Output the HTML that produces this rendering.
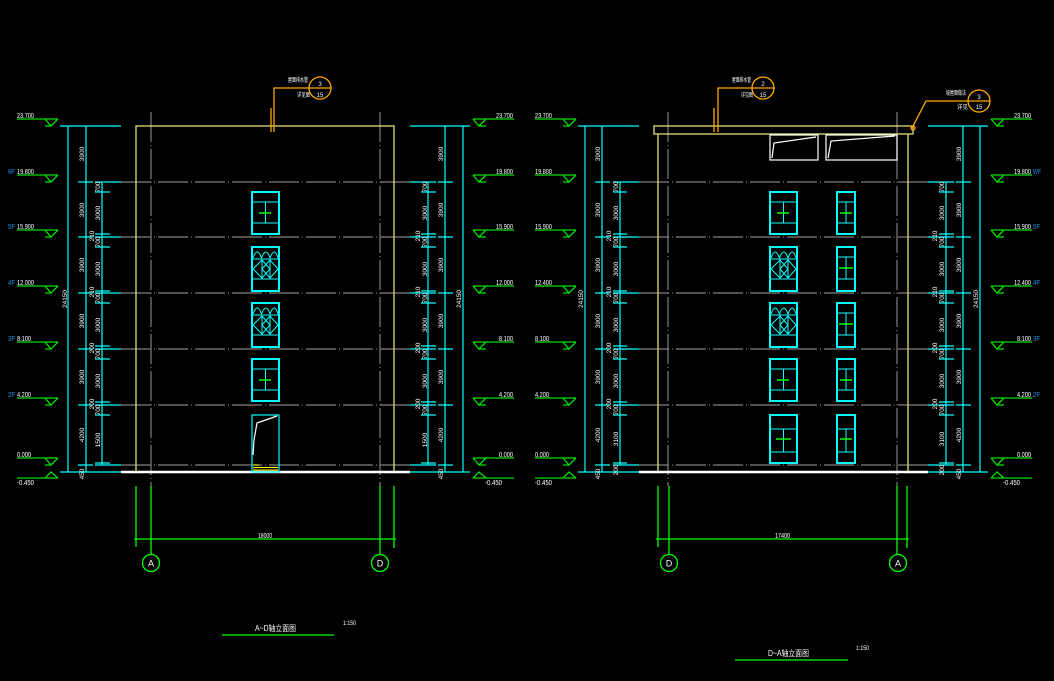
<!DOCTYPE html>
<html><head><meta charset="utf-8">
<style>
html,body{margin:0;padding:0;background:#000;width:1054px;height:681px;overflow:hidden}
svg{display:block}
text{font-family:"Liberation Sans","Noto Sans CJK SC",sans-serif;fill:#fff}
.v{font-size:6.5px;text-anchor:middle}
.h{font-size:7px}
.e{text-anchor:end}
.b{fill:#2090f0;font-size:7px}
.c{font-size:6px}
.m{text-anchor:middle}
</style></head><body>
<svg width="1054" height="681" viewBox="0 0 1054 681">
<defs>
<g id="mkR" fill="none" stroke="#00e000" stroke-width="1.3"><path d="M0 0H41M28 0L34 7L41 0M28 7H34"/></g>
<g id="mkL" fill="none" stroke="#00e000" stroke-width="1.3"><path d="M0 0H41M0 0L6 7L13 0M6 7H13"/></g>
<g id="mkRu" fill="none" stroke="#00e000" stroke-width="1.3"><path d="M0 0H41M28 0L34 -6L41 0"/></g>
<g id="mkLu" fill="none" stroke="#00e000" stroke-width="1.3"><path d="M0 0H41M0 0L6 -6L13 0"/></g>
<g id="wA" fill="none"><rect x="0" y="0" width="27" height="42" stroke="#0ff" stroke-width="2"/><path d="M0 10H27M0 31H27M13.5 10V31" stroke="#0ff"/><path d="M7 21H19" stroke="#0f0" stroke-width="1.5"/></g>
<g id="wB" fill="none" stroke="#0ff"><rect x="0" y="0" width="27" height="44" stroke-width="2"/><path d="M0 12H27M0 32H27M10 12V32M18 12V32"/><path d="M1 11Q5 -1 9.5 11Q14 -1 18 11Q22.5 -1 26 11"/><path d="M1 22L10 13L18 22L10 31ZM10 22L18 13L26 22L18 31Z"/></g>
<g id="wAb" fill="none"><rect x="0" y="0" width="27" height="48" stroke="#0ff" stroke-width="2"/><path d="M0 14H27M0 37H27M13.5 14V37" stroke="#0ff"/><path d="M6 24H21" stroke="#0f0" stroke-width="1.5"/></g>
<g id="wS" fill="none"><rect x="0" y="0" width="18" height="42" stroke="#0ff" stroke-width="2"/><path d="M0 10H18M0 31H18M9 10V31" stroke="#0ff"/><path d="M3 21H15" stroke="#0f0" stroke-width="1.5"/></g>
<g id="wSB" fill="none"><rect x="0" y="0" width="18" height="44" stroke="#0ff" stroke-width="2"/><path d="M0 10H18M0 32H18M9 10V32" stroke="#0ff"/><path d="M2 21H16" stroke="#0f0" stroke-width="1.5"/></g>
<g id="wSb" fill="none"><rect x="0" y="0" width="18" height="48" stroke="#0ff" stroke-width="2"/><path d="M0 14H18M0 37H18M9 14V37" stroke="#0ff"/><path d="M3 24H15" stroke="#0f0" stroke-width="1.5"/></g>
</defs>

<!-- gray grid lines -->
<g stroke="#7f7f7f" stroke-width="1.2" stroke-dasharray="30 3 1 3" fill="none">
<path d="M121 182H410M121 237H410M121 293H410M121 349H410M121 405H410M121 465H410"/>
<path d="M639 182H928M639 237H928M639 293H928M639 349H928M639 405H928M639 465H928"/>
<path d="M151 112V486M380 112V486M668 112V486M897 112V486"/>
</g>

<!-- buildings -->
<g stroke="#dcdc7a" stroke-width="1.3" fill="none">
<rect x="136" y="126" width="258" height="346"/>
<rect x="654" y="126" width="259" height="8"/>
<path d="M658 134V472M908 134V472"/>
</g>

<!-- ground -->
<path d="M121 472H410M639 472H928" stroke="#fff" stroke-width="2.5"/>

<!-- cyan dims -->
<g stroke="#0ff" stroke-width="1.2" fill="none">
<path d="M68 126V472M86 126V472M102 182V465M60 126H121M60 472H121
M78 182H93M95 182H121M78 237H93M95 237H121M78 293H93M95 293H121M78 349H93M95 349H121M78 405H93M95 405H121M78 465H93M95 465H121
M95 192H110M95 234H110M95 247H110M95 291H110M95 303H110M95 346H110M95 359H110M95 402H110M95 415H110M95 463H110"/>
<path d="M428 182V465M445 126V472M463 126V472M410 126H470M410 472H470
M410 182H436M438 182H453M410 237H436M438 237H453M410 293H436M438 293H453M410 349H436M438 349H453M410 405H436M438 405H453M410 465H436M438 465H453
M421 192H436M421 234H436M421 247H436M421 291H436M421 303H436M421 346H436M421 359H436M421 402H436M421 415H436M421 463H436"/>
<path d="M585 126V472M602 126V472M620 182V465M578 126H639M578 472H639
M595 182H610M613 182H639M595 237H610M613 237H639M595 293H610M613 293H639M595 349H610M613 349H639M595 405H610M613 405H639M595 465H610M613 465H639
M613 192H627M613 234H627M613 247H627M613 291H627M613 303H627M613 346H627M613 359H627M613 402H627M613 415H627M613 463H627"/>
<path d="M946 182V465M963 126V472M980 126V472M928 126H988M928 472H988
M928 182H954M956 182H971M928 237H954M956 237H971M928 293H954M956 293H971M928 349H954M956 349H971M928 405H954M956 405H971M928 465H954M956 465H971
M939 192H954M939 234H954M939 247H954M939 291H954M939 303H954M939 346H954M939 359H954M939 402H954M939 415H954M939 463H954"/>
</g>

<!-- windows left building -->
<use href="#wA" x="252" y="192"/>
<use href="#wB" x="252" y="247"/>
<use href="#wB" x="252" y="303"/>
<use href="#wA" x="252" y="359"/>
<rect x="252" y="415" width="27" height="57" fill="none" stroke="#0ff" stroke-width="1.2"/>
<path d="M277 416L257 423L254 440L253 455" fill="none" stroke="#fff" stroke-width="1.2"/>
<path d="M253 465H259M253 467.5H278M253 470H278" stroke="#ff0" stroke-width="1"/>

<!-- windows right building -->
<use href="#wA" x="770" y="192"/>
<use href="#wB" x="770" y="247"/>
<use href="#wB" x="770" y="303"/>
<use href="#wA" x="770" y="359"/>
<use href="#wAb" x="770" y="415"/>
<use href="#wS" x="837" y="192"/>
<use href="#wSB" x="837" y="247"/>
<use href="#wSB" x="837" y="303"/>
<use href="#wS" x="837" y="359"/>
<use href="#wSb" x="837" y="415"/>

<!-- roof windows -->
<g fill="none" stroke="#fff" stroke-width="1.2">
<rect x="770" y="135" width="48" height="25"/>
<path d="M772 158L774 143L816 137"/>
<rect x="826" y="135" width="71" height="25"/>
<path d="M828 158L831 141L895 136"/>
</g>

<!-- leaders -->
<g fill="none" stroke="#ffaa00" stroke-width="1.3">
<path d="M271 108V132M274 132V88H331"/>
<circle cx="320" cy="88" r="11"/>
<path d="M714 108V132M718 132V88H775"/>
<circle cx="763" cy="88" r="11"/>
<path d="M912 128L926 101H990"/>
<circle cx="979" cy="101" r="11"/>
<circle cx="913" cy="128" r="2"/>
</g>
<text class="c m" x="320" y="86">3</text>
<text class="c m" x="320" y="97">15</text>
<text class="c m" x="763" y="86">2</text>
<text class="c m" x="763" y="97">15</text>
<text class="c m" x="979" y="99">3</text>
<text class="c m" x="979" y="109">15</text>
<text class="c" x="288" y="82" textLength="20" lengthAdjust="spacingAndGlyphs">屋面排水管</text>
<text class="c" x="297" y="97" textLength="13" lengthAdjust="spacingAndGlyphs">详见图</text>
<text class="c" x="732" y="82" textLength="19" lengthAdjust="spacingAndGlyphs">屋面排水管</text>
<text class="c" x="741" y="97" textLength="12" lengthAdjust="spacingAndGlyphs">详见图</text>
<text class="c" x="946" y="95" textLength="20" lengthAdjust="spacingAndGlyphs">坡屋面做法</text>
<text class="c" x="957" y="109" textLength="11" lengthAdjust="spacingAndGlyphs">详见</text>

<!-- elevation markers -->
<use href="#mkR" x="17" y="119"/><use href="#mkR" x="17" y="175"/><use href="#mkR" x="17" y="230"/><use href="#mkR" x="17" y="286"/><use href="#mkR" x="17" y="342"/><use href="#mkR" x="17" y="398"/><use href="#mkR" x="17" y="458"/><use href="#mkRu" x="17" y="478"/>
<use href="#mkL" x="473" y="119"/><use href="#mkL" x="473" y="175"/><use href="#mkL" x="473" y="230"/><use href="#mkL" x="473" y="286"/><use href="#mkL" x="473" y="342"/><use href="#mkL" x="473" y="398"/><use href="#mkL" x="473" y="458"/><use href="#mkLu" x="473" y="478"/>
<use href="#mkR" x="535" y="119"/><use href="#mkR" x="535" y="175"/><use href="#mkR" x="535" y="230"/><use href="#mkR" x="535" y="286"/><use href="#mkR" x="535" y="342"/><use href="#mkR" x="535" y="398"/><use href="#mkR" x="535" y="458"/><use href="#mkRu" x="535" y="478"/>
<use href="#mkL" x="991" y="119"/><use href="#mkL" x="991" y="175"/><use href="#mkL" x="991" y="230"/><use href="#mkL" x="991" y="286"/><use href="#mkL" x="991" y="342"/><use href="#mkL" x="991" y="398"/><use href="#mkL" x="991" y="458"/><use href="#mkLu" x="991" y="478"/>

<!-- marker texts: left-left -->
<text class="h" x="17" y="118" textLength="17" lengthAdjust="spacingAndGlyphs">23.700</text>
<text class="h" x="17" y="174" textLength="17" lengthAdjust="spacingAndGlyphs">19.800</text>
<text class="h" x="17" y="229" textLength="17" lengthAdjust="spacingAndGlyphs">15.900</text>
<text class="h" x="17" y="285" textLength="17" lengthAdjust="spacingAndGlyphs">12.000</text>
<text class="h" x="17" y="341" textLength="14" lengthAdjust="spacingAndGlyphs">8.100</text>
<text class="h" x="17" y="397" textLength="14" lengthAdjust="spacingAndGlyphs">4.200</text>
<text class="h" x="17" y="457" textLength="14" lengthAdjust="spacingAndGlyphs">0.000</text>
<text class="h" x="17" y="485" textLength="17" lengthAdjust="spacingAndGlyphs">-0.450</text>
<text class="b" x="8" y="174" textLength="7" lengthAdjust="spacingAndGlyphs">WF</text>
<text class="b" x="8" y="229" textLength="7" lengthAdjust="spacingAndGlyphs">5F</text>
<text class="b" x="8" y="285" textLength="7" lengthAdjust="spacingAndGlyphs">4F</text>
<text class="b" x="8" y="341" textLength="7" lengthAdjust="spacingAndGlyphs">3F</text>
<text class="b" x="8" y="397" textLength="7" lengthAdjust="spacingAndGlyphs">2F</text>
<!-- right of left -->
<text class="h" x="496" y="118" textLength="17" lengthAdjust="spacingAndGlyphs">23.700</text>
<text class="h" x="496" y="174" textLength="17" lengthAdjust="spacingAndGlyphs">19.800</text>
<text class="h" x="496" y="229" textLength="17" lengthAdjust="spacingAndGlyphs">15.900</text>
<text class="h" x="496" y="285" textLength="17" lengthAdjust="spacingAndGlyphs">12.000</text>
<text class="h" x="499" y="341" textLength="14" lengthAdjust="spacingAndGlyphs">8.100</text>
<text class="h" x="499" y="397" textLength="14" lengthAdjust="spacingAndGlyphs">4.200</text>
<text class="h" x="499" y="457" textLength="14" lengthAdjust="spacingAndGlyphs">0.000</text>
<text class="h" x="485" y="485" textLength="17" lengthAdjust="spacingAndGlyphs">-0.450</text>
<!-- left of right -->
<text class="h" x="535" y="118" textLength="17" lengthAdjust="spacingAndGlyphs">23.700</text>
<text class="h" x="535" y="174" textLength="17" lengthAdjust="spacingAndGlyphs">19.800</text>
<text class="h" x="535" y="229" textLength="17" lengthAdjust="spacingAndGlyphs">15.900</text>
<text class="h" x="535" y="285" textLength="17" lengthAdjust="spacingAndGlyphs">12.400</text>
<text class="h" x="535" y="341" textLength="14" lengthAdjust="spacingAndGlyphs">8.100</text>
<text class="h" x="535" y="397" textLength="14" lengthAdjust="spacingAndGlyphs">4.200</text>
<text class="h" x="535" y="457" textLength="14" lengthAdjust="spacingAndGlyphs">0.000</text>
<text class="h" x="535" y="485" textLength="17" lengthAdjust="spacingAndGlyphs">-0.450</text>
<!-- right-right -->
<text class="h" x="1014" y="118" textLength="17" lengthAdjust="spacingAndGlyphs">23.700</text>
<text class="h" x="1014" y="174" textLength="17" lengthAdjust="spacingAndGlyphs">19.800</text>
<text class="h" x="1014" y="229" textLength="17" lengthAdjust="spacingAndGlyphs">15.900</text>
<text class="h" x="1014" y="285" textLength="17" lengthAdjust="spacingAndGlyphs">12.400</text>
<text class="h" x="1017" y="341" textLength="14" lengthAdjust="spacingAndGlyphs">8.100</text>
<text class="h" x="1017" y="397" textLength="14" lengthAdjust="spacingAndGlyphs">4.200</text>
<text class="h" x="1017" y="457" textLength="14" lengthAdjust="spacingAndGlyphs">0.000</text>
<text class="h" x="1003" y="485" textLength="17" lengthAdjust="spacingAndGlyphs">-0.450</text>
<text class="b" x="1033" y="174" textLength="8" lengthAdjust="spacingAndGlyphs">WF</text>
<text class="b" x="1033" y="229" textLength="7" lengthAdjust="spacingAndGlyphs">5F</text>
<text class="b" x="1033" y="285" textLength="7" lengthAdjust="spacingAndGlyphs">4F</text>
<text class="b" x="1033" y="341" textLength="7" lengthAdjust="spacingAndGlyphs">3F</text>
<text class="b" x="1033" y="397" textLength="7" lengthAdjust="spacingAndGlyphs">2F</text>

<!-- vertical dim texts: left-left -->
<g class="v">
<text transform="translate(67 299) rotate(-90)">24150</text>
<text transform="translate(84 154) rotate(-90)">3900</text>
<text transform="translate(84 210) rotate(-90)">3900</text>
<text transform="translate(84 265) rotate(-90)">3900</text>
<text transform="translate(84 321) rotate(-90)">3900</text>
<text transform="translate(84 377) rotate(-90)">3900</text>
<text transform="translate(84 435) rotate(-90)">4200</text>
<text transform="translate(84 474) rotate(-90)">450</text>
<text transform="translate(100 187) rotate(-90)">700</text>
<text transform="translate(100 213) rotate(-90)">3000</text>
<text transform="translate(94 236) rotate(-90)">210</text>
<text transform="translate(100 242) rotate(-90)">700</text>
<text transform="translate(100 269) rotate(-90)">3000</text>
<text transform="translate(94 292) rotate(-90)">210</text>
<text transform="translate(100 298) rotate(-90)">700</text>
<text transform="translate(100 325) rotate(-90)">3000</text>
<text transform="translate(94 348) rotate(-90)">200</text>
<text transform="translate(100 354) rotate(-90)">700</text>
<text transform="translate(100 381) rotate(-90)">3000</text>
<text transform="translate(94 404) rotate(-90)">200</text>
<text transform="translate(100 410) rotate(-90)">700</text>
<text transform="translate(100 440) rotate(-90)">1500</text>
</g>
<!-- left-right -->
<g class="v">
<text transform="translate(461 299) rotate(-90)">24150</text>
<text transform="translate(443 154) rotate(-90)">3900</text>
<text transform="translate(443 210) rotate(-90)">3900</text>
<text transform="translate(443 265) rotate(-90)">3900</text>
<text transform="translate(443 321) rotate(-90)">3900</text>
<text transform="translate(443 377) rotate(-90)">3900</text>
<text transform="translate(443 435) rotate(-90)">4200</text>
<text transform="translate(443 474) rotate(-90)">450</text>
<text transform="translate(427 187) rotate(-90)">700</text>
<text transform="translate(427 213) rotate(-90)">3000</text>
<text transform="translate(420 236) rotate(-90)">210</text>
<text transform="translate(427 242) rotate(-90)">700</text>
<text transform="translate(427 269) rotate(-90)">3000</text>
<text transform="translate(420 292) rotate(-90)">210</text>
<text transform="translate(427 298) rotate(-90)">700</text>
<text transform="translate(427 325) rotate(-90)">3000</text>
<text transform="translate(420 348) rotate(-90)">200</text>
<text transform="translate(427 354) rotate(-90)">700</text>
<text transform="translate(427 381) rotate(-90)">3000</text>
<text transform="translate(420 404) rotate(-90)">200</text>
<text transform="translate(427 410) rotate(-90)">700</text>
<text transform="translate(427 440) rotate(-90)">1500</text>
</g>
<!-- right-left -->
<g class="v">
<text transform="translate(583 299) rotate(-90)">24150</text>
<text transform="translate(600 154) rotate(-90)">3900</text>
<text transform="translate(600 210) rotate(-90)">3900</text>
<text transform="translate(600 265) rotate(-90)">3900</text>
<text transform="translate(600 321) rotate(-90)">3900</text>
<text transform="translate(600 377) rotate(-90)">3900</text>
<text transform="translate(600 435) rotate(-90)">4200</text>
<text transform="translate(600 474) rotate(-90)">450</text>
<text transform="translate(618 187) rotate(-90)">700</text>
<text transform="translate(618 213) rotate(-90)">3000</text>
<text transform="translate(611 236) rotate(-90)">210</text>
<text transform="translate(618 242) rotate(-90)">700</text>
<text transform="translate(618 269) rotate(-90)">3000</text>
<text transform="translate(611 292) rotate(-90)">210</text>
<text transform="translate(618 298) rotate(-90)">700</text>
<text transform="translate(618 325) rotate(-90)">3000</text>
<text transform="translate(611 348) rotate(-90)">200</text>
<text transform="translate(618 354) rotate(-90)">700</text>
<text transform="translate(618 381) rotate(-90)">3000</text>
<text transform="translate(611 404) rotate(-90)">200</text>
<text transform="translate(618 410) rotate(-90)">700</text>
<text transform="translate(618 439) rotate(-90)">3100</text>
<text transform="translate(618 470) rotate(-90)">200</text>
</g>
<!-- right-right -->
<g class="v">
<text transform="translate(978 299) rotate(-90)">24150</text>
<text transform="translate(961 154) rotate(-90)">3900</text>
<text transform="translate(961 210) rotate(-90)">3900</text>
<text transform="translate(961 265) rotate(-90)">3900</text>
<text transform="translate(961 321) rotate(-90)">3900</text>
<text transform="translate(961 377) rotate(-90)">3900</text>
<text transform="translate(961 435) rotate(-90)">4200</text>
<text transform="translate(961 474) rotate(-90)">450</text>
<text transform="translate(944 187) rotate(-90)">700</text>
<text transform="translate(944 213) rotate(-90)">3000</text>
<text transform="translate(937 236) rotate(-90)">210</text>
<text transform="translate(944 242) rotate(-90)">700</text>
<text transform="translate(944 269) rotate(-90)">3000</text>
<text transform="translate(937 292) rotate(-90)">210</text>
<text transform="translate(944 298) rotate(-90)">700</text>
<text transform="translate(944 325) rotate(-90)">3000</text>
<text transform="translate(937 348) rotate(-90)">200</text>
<text transform="translate(944 354) rotate(-90)">700</text>
<text transform="translate(944 381) rotate(-90)">3000</text>
<text transform="translate(937 404) rotate(-90)">200</text>
<text transform="translate(944 410) rotate(-90)">700</text>
<text transform="translate(944 439) rotate(-90)">3100</text>
<text transform="translate(944 470) rotate(-90)">200</text>
</g>

<!-- axis lines & bubbles -->
<g stroke="#00ff00" stroke-width="1.3" fill="none">
<path d="M136 486V547M151 486V554M380 486V554M394 486V548M134 539H396"/>
<path d="M658 486V547M669 486V554M897 486V554M907 486V548M656 539H909"/>
<circle cx="151" cy="563" r="8.5"/>
<circle cx="380" cy="563" r="8.5"/>
<circle cx="669" cy="563" r="8.5"/>
<circle cx="898" cy="563" r="8.5"/>
<path d="M222 635H334M735 660H848"/>
</g>
<text x="151" y="566.5" class="m" style="font-size:9px">A</text>
<text x="380" y="566.5" class="m" style="font-size:9px">D</text>
<text x="669" y="566.5" class="m" style="font-size:9px">D</text>
<text x="898" y="566.5" class="m" style="font-size:9px">A</text>
<text class="h" x="258" y="538" textLength="14" lengthAdjust="spacingAndGlyphs">18000</text>
<text class="h" x="775" y="538" textLength="15" lengthAdjust="spacingAndGlyphs">17400</text>

<!-- titles -->
<text x="255" y="631" style="font-size:8px" textLength="41" lengthAdjust="spacingAndGlyphs">A~D轴立面图</text>
<text x="343" y="625" style="font-size:6px" textLength="13" lengthAdjust="spacingAndGlyphs">1:150</text>
<text x="768" y="656" style="font-size:8px" textLength="41" lengthAdjust="spacingAndGlyphs">D~A轴立面图</text>
<text x="856" y="650" style="font-size:6px" textLength="13" lengthAdjust="spacingAndGlyphs">1:150</text>
</svg>
</body></html>
